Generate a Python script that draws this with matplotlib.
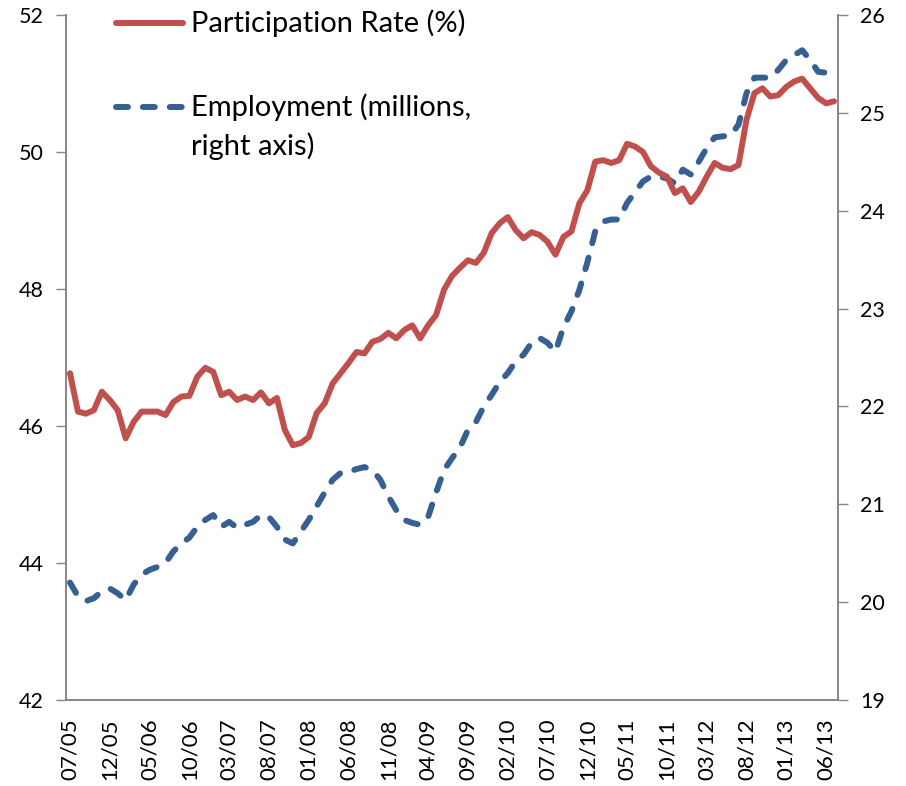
import matplotlib
matplotlib.use("Agg")
import matplotlib.pyplot as plt
from matplotlib.lines import Line2D
import numpy as np

plt.rcParams['font.family'] = ['Lato', 'DejaVu Sans']

months = ["07/05","08/05","09/05","10/05","11/05","12/05",
          "01/06","02/06","03/06","04/06","05/06","06/06","07/06","08/06","09/06","10/06","11/06","12/06",
          "01/07","02/07","03/07","04/07","05/07","06/07","07/07","08/07","09/07","10/07","11/07","12/07",
          "01/08","02/08","03/08","04/08","05/08","06/08","07/08","08/08","09/08","10/08","11/08","12/08",
          "01/09","02/09","03/09","04/09","05/09","06/09","07/09","08/09","09/09","10/09","11/09","12/09",
          "01/10","02/10","03/10","04/10","05/10","06/10","07/10","08/10","09/10","10/10","11/10","12/10",
          "01/11","02/11","03/11","04/11","05/11","06/11","07/11","08/11","09/11","10/11","11/11","12/11",
          "01/12","02/12","03/12","04/12","05/12","06/12","07/12","08/12","09/12","10/12","11/12","12/12",
          "01/13","02/13","03/13","04/13","05/13","06/13","07/13"]

participation = [46.77, 46.21, 46.18, 46.23, 46.50, 46.38, 46.23, 45.82, 46.06, 46.21,
                 46.21, 46.21, 46.16, 46.35, 46.43, 46.44, 46.72, 46.85, 46.79, 46.45,
                 46.50, 46.38, 46.43, 46.38, 46.49, 46.33, 46.41, 45.94, 45.72, 45.75,
                 45.84, 46.19, 46.33, 46.62, 46.77, 46.92, 47.08, 47.06, 47.23, 47.27,
                 47.36, 47.28, 47.40, 47.47, 47.28, 47.47, 47.62, 47.99, 48.19, 48.31,
                 48.42, 48.38, 48.53, 48.82, 48.96, 49.05, 48.86, 48.74, 48.83, 48.79,
                 48.69, 48.50, 48.76, 48.84, 49.25, 49.44, 49.86, 49.88, 49.84, 49.88,
                 50.12, 50.08, 50.00, 49.79, 49.70, 49.64, 49.40, 49.47, 49.27, 49.42,
                 49.64, 49.84, 49.77, 49.75, 49.81, 50.47, 50.86, 50.93, 50.81, 50.83,
                 50.95, 51.03, 51.07, 50.93, 50.79, 50.71, 50.74]

employment = [20.20, 20.06, 20.01, 20.04, 20.11, 20.14, 20.09, 20.02, 20.18, 20.28,
              20.33, 20.36, 20.40, 20.52, 20.60, 20.66, 20.77, 20.84, 20.89, 20.77,
              20.82, 20.76, 20.79, 20.82, 20.89, 20.87, 20.77, 20.64, 20.60, 20.72,
              20.84, 20.98, 21.12, 21.25, 21.32, 21.33, 21.36, 21.38, 21.35, 21.25,
              21.08, 20.94, 20.84, 20.81, 20.79, 20.87, 21.12, 21.35, 21.47, 21.58,
              21.76, 21.84, 22.00, 22.12, 22.25, 22.34, 22.46, 22.53, 22.65, 22.70,
              22.65, 22.56, 22.81, 22.97, 23.19, 23.47, 23.79, 23.89, 23.91, 23.91,
              24.08, 24.19, 24.30, 24.35, 24.35, 24.33, 24.28, 24.42, 24.37, 24.50,
              24.64, 24.75, 24.76, 24.77, 24.88, 25.20, 25.36, 25.36, 25.36, 25.44,
              25.54, 25.59, 25.64, 25.54, 25.42, 25.41, 25.41]

left_ticks = [42, 44, 46, 48, 50, 52]
right_ticks = [19, 20, 21, 22, 23, 24, 25, 26]

red = "#C0504D"
blue = "#376092"
axis_gray = "#868686"
LW = 4.3
DASH = (0, (2.0, 2.5))

fig = plt.figure(figsize=(9.06, 7.86), dpi=100)
ax = fig.add_axes([66/906, 1-700/786, (838-66)/906, (700-15)/786])
ax2 = ax.twinx()

x = np.arange(len(months))
ax.plot(x, participation, color=red, lw=LW, solid_joinstyle='round', solid_capstyle='round', zorder=3)
ax2.plot(x, employment, color=blue, lw=LW, linestyle=DASH,
         dash_capstyle='round', dash_joinstyle='round')
ax.set_zorder(ax2.get_zorder() + 1)
ax.patch.set_visible(False)

ax.set_xlim(-0.5, len(months) - 0.5)
ax.set_ylim(42, 52)
ax2.set_ylim(19, 26)
ax.set_yticks(left_ticks)
ax2.set_yticks(right_ticks)

ax.set_xticks(x[::5])
ax.set_xticklabels(months[::5], rotation=90, fontsize=16)
ax.tick_params(axis='x', length=0, pad=13)
ax.tick_params(axis='y', length=7, width=1, color=axis_gray, labelsize=15.5, pad=9)
ax2.tick_params(axis='y', length=7, width=1, color=axis_gray, labelsize=15.5, pad=9)

for a in (ax, ax2):
    a.spines['top'].set_visible(False)
    for s in ('left', 'right', 'bottom'):
        a.spines[s].set_color(axis_gray)
        a.spines[s].set_linewidth(1.2)

# legend drawn by hand (handle aligned to first text line)
def fx(px):
    return px / 906
def fy(py):
    return 1 - py / 786

fig.add_artist(Line2D([fx(116), fx(183)], [fy(23), fy(23)], color=red, lw=LW,
                      solid_capstyle='round'))
fig.text(fx(191), fy(23), "Participation Rate (%)", fontsize=21, va='center', ha='left')
fig.add_artist(Line2D([fx(116), fx(183)], [fy(107), fy(107)], color=blue, lw=LW,
                      linestyle=DASH, dash_capstyle='round'))
fig.text(fx(191), fy(107), "Employment (millions,", fontsize=21, va='center', ha='left')
fig.text(fx(191), fy(146), "right axis)", fontsize=21, va='center', ha='left')

fig.savefig("out.png", dpi=100)
